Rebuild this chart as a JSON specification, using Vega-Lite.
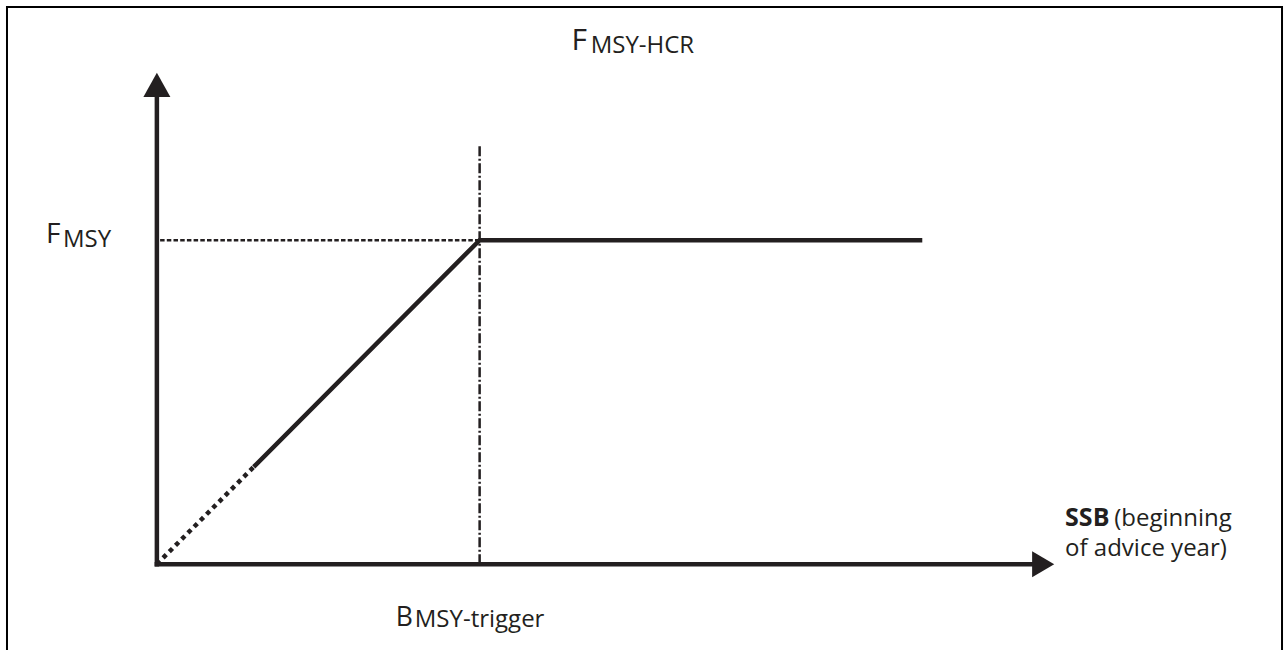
{
  "$schema": "https://vega.github.io/schema/vega-lite/v6.json",
  "width": 1284,
  "height": 651,
  "autosize": {"type": "fit", "contains": "padding"},
  "padding": 0,
  "background": "white",
  "config": {"view": {"stroke": null}},
  "datasets": {
    "segments": [
      {"part": "frame-left", "x": -0.4644, "y": -0.265, "x2": -0.4644, "y2": 1.7227},
      {"part": "frame-top", "x": -0.4675, "y": 1.7196, "x2": 3.4889, "y2": 1.7196},
      {"part": "frame-right", "x": 3.4861, "y": -0.265, "x2": 3.4861, "y2": 1.7227},
      {"part": "y-axis", "x": 0, "y": 0, "x2": 0, "y2": 1.442},
      {"part": "x-axis", "x": 0, "y": 0, "x2": 2.712, "y2": 0},
      {"part": "fmsy-ref", "x": 0.01, "y": 1, "x2": 1, "y2": 1},
      {"part": "btrigger-ref", "x": 1, "y": 0, "x2": 1, "y2": 1.297}
    ],
    "policy": [
      {"part": "extrapolated", "x": 0, "y": 0},
      {"part": "extrapolated", "x": 0.3, "y": 0.3},
      {"part": "rule", "x": 0.3, "y": 0.3},
      {"part": "rule", "x": 1, "y": 1},
      {"part": "rule", "x": 2.3715, "y": 1}
    ],
    "arrows": [
      {"part": "y-head", "x": 0, "y": 1.4792},
      {"part": "x-head", "x": 2.7461, "y": 0}
    ],
    "labels": [
      {"part": "title-main", "x": 1.285, "y": 1.587, "text": "F"},
      {"part": "title-sub", "x": 1.344, "y": 1.578, "text": "MSY-HCR"},
      {"part": "fmsy-main", "x": -0.3437, "y": 0.992, "text": "F"},
      {"part": "fmsy-sub", "x": -0.291, "y": 0.98, "text": "MSY"},
      {"part": "b-main", "x": 0.74, "y": -0.191, "text": "B"},
      {"part": "b-sub", "x": 0.799, "y": -0.194, "text": "MSY-trigger"},
      {"part": "ssb-bold", "x": 2.814, "y": 0.117, "text": "SSB"},
      {"part": "ssb-rest1", "x": 2.966, "y": 0.117, "text": "(beginning"},
      {"part": "ssb-rest2", "x": 2.814, "y": 0.0247, "text": "of advice year)"}
    ]
  },
  "encoding": {
    "x": {"field": "x", "type": "quantitative", "axis": null, "scale": {"domain": [-0.48607, 3.48916], "nice": false, "zero": false}},
    "y": {"field": "y", "type": "quantitative", "axis": null, "scale": {"domain": [-0.26502, 1.74114], "nice": false, "zero": false}}
  },
  "layer": [
    {
      "data": {"name": "segments"},
      "transform": [{"filter": "indexof(datum.part, 'frame') === 0"}],
      "mark": {"type": "rule", "color": "#000000", "strokeWidth": 2},
      "encoding": {"x2": {"field": "x2"}, "y2": {"field": "y2"}}
    },
    {
      "data": {"name": "segments"},
      "transform": [{"filter": "datum.part === 'fmsy-ref'"}],
      "mark": {"type": "rule", "color": "#231f20", "strokeWidth": 2.5, "strokeDash": [4.5, 2.2]},
      "encoding": {"x2": {"field": "x2"}, "y2": {"field": "y2"}}
    },
    {
      "data": {"name": "segments"},
      "transform": [{"filter": "datum.part === 'btrigger-ref'"}],
      "mark": {"type": "rule", "color": "#231f20", "strokeWidth": 2.5, "strokeDash": [10, 2.5, 2, 2.5]},
      "encoding": {"x2": {"field": "x2"}, "y2": {"field": "y2"}}
    },
    {
      "data": {"name": "segments"},
      "transform": [{"filter": "indexof(datum.part, 'axis') > 0"}],
      "mark": {"type": "rule", "color": "#231f20", "strokeWidth": 4.5, "strokeCap": "square"},
      "encoding": {"x2": {"field": "x2"}, "y2": {"field": "y2"}}
    },
    {
      "data": {"name": "policy"},
      "transform": [{"filter": "datum.part === 'extrapolated'"}],
      "mark": {"type": "line", "color": "#231f20", "strokeWidth": 4.5, "strokeDash": [4.5, 4.3]},
      "encoding": {"order": {"field": "x", "type": "quantitative"}}
    },
    {
      "data": {"name": "policy"},
      "transform": [{"filter": "datum.part === 'rule'"}],
      "mark": {"type": "line", "color": "#231f20", "strokeWidth": 4.5, "strokeJoin": "miter"},
      "encoding": {"order": {"field": "x", "type": "quantitative"}}
    },
    {
      "data": {"name": "arrows"},
      "transform": [{"filter": "datum.part === 'y-head'"}],
      "mark": {"type": "point", "shape": "M0,-0.89L1,0.89L-1,0.89Z", "size": 729, "filled": true, "color": "#231f20", "opacity": 1}
    },
    {
      "data": {"name": "arrows"},
      "transform": [{"filter": "datum.part === 'x-head'"}],
      "mark": {"type": "point", "shape": "M0.85,0L-0.85,-1L-0.85,1Z", "size": 676, "filled": true, "color": "#231f20", "opacity": 1}
    },
    {
      "data": {"name": "labels"},
      "transform": [{"filter": "datum.part === 'title-main'"}],
      "mark": {"type": "text", "font": "Open Sans", "fontSize": 30, "align": "left", "baseline": "alphabetic", "color": "#231f20"},
      "encoding": {"text": {"field": "text"}}
    },
    {
      "data": {"name": "labels"},
      "transform": [{"filter": "datum.part === 'title-sub'"}],
      "mark": {"type": "text", "font": "Open Sans", "fontSize": 24, "align": "left", "baseline": "alphabetic", "color": "#231f20"},
      "encoding": {"text": {"field": "text"}}
    },
    {
      "data": {"name": "labels"},
      "transform": [{"filter": "datum.part === 'fmsy-main'"}],
      "mark": {"type": "text", "font": "Open Sans", "fontSize": 28, "align": "left", "baseline": "alphabetic", "color": "#231f20"},
      "encoding": {"text": {"field": "text"}}
    },
    {
      "data": {"name": "labels"},
      "transform": [{"filter": "datum.part === 'fmsy-sub'"}],
      "mark": {"type": "text", "font": "Open Sans", "fontSize": 24, "align": "left", "baseline": "alphabetic", "color": "#231f20"},
      "encoding": {"text": {"field": "text"}}
    },
    {
      "data": {"name": "labels"},
      "transform": [{"filter": "datum.part === 'b-main'"}],
      "mark": {"type": "text", "font": "Open Sans", "fontSize": 26.5, "align": "left", "baseline": "alphabetic", "color": "#231f20"},
      "encoding": {"text": {"field": "text"}}
    },
    {
      "data": {"name": "labels"},
      "transform": [{"filter": "datum.part === 'b-sub'"}],
      "mark": {"type": "text", "font": "Open Sans", "fontSize": 24, "align": "left", "baseline": "alphabetic", "color": "#231f20"},
      "encoding": {"text": {"field": "text"}}
    },
    {
      "data": {"name": "labels"},
      "transform": [{"filter": "datum.part === 'ssb-bold'"}],
      "mark": {"type": "text", "font": "Open Sans", "fontSize": 25, "fontWeight": "bold", "align": "left", "baseline": "alphabetic", "color": "#231f20"},
      "encoding": {"text": {"field": "text"}}
    },
    {
      "data": {"name": "labels"},
      "transform": [{"filter": "indexof(datum.part, 'ssb-rest') === 0"}],
      "mark": {"type": "text", "font": "Open Sans", "fontSize": 24, "align": "left", "baseline": "alphabetic", "color": "#231f20"},
      "encoding": {"text": {"field": "text"}}
    }
  ]
}
